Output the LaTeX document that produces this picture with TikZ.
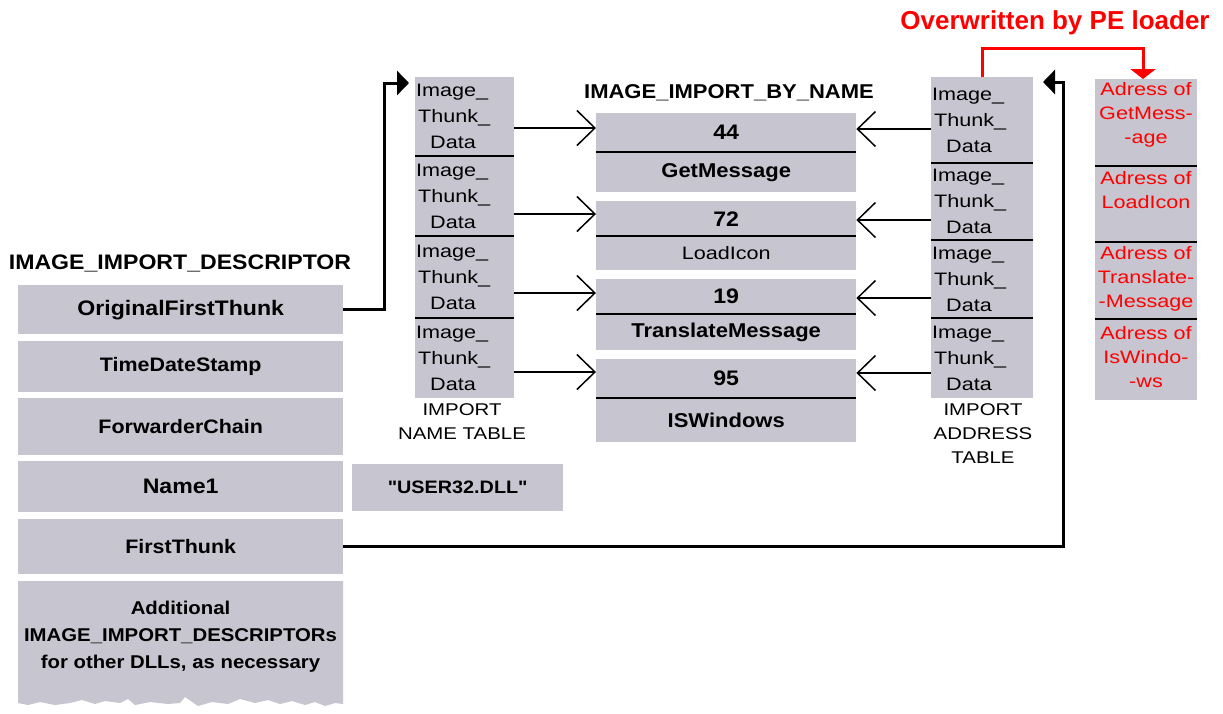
\documentclass[tikz,border=0pt]{standalone}
\usepackage{fontspec}
\setmainfont{Liberation Sans}
\newfontfamily\bfnt[FakeStretch=1.1]{Liberation Sans}
\newfontfamily\thfnt[FakeStretch=1.2]{Liberation Sans}
\usetikzlibrary{arrows.meta}
\definecolor{boxgray}{RGB}{199,197,207}
\definecolor{pered}{RGB}{255,0,0}
\newcommand\ThunkTxt{Image\_\\\hspace*{2pt}Thunk\_\\\hspace*{14pt}Data}
\tikzset{
  fld/.style={fill=boxgray, inner sep=0pt, anchor=north west},
  bt/.style={font=\bfnt\bfseries\fontsize{#1}{27}\selectfont},
  bt/.default=20,
  tt/.style={font=\thfnt\fontsize{18}{26}\selectfont},
  thunk/.style={fld, tt, text width=97pt, inner xsep=1pt, align=left},
  athunk/.style={fld, tt, text width=100pt, inner xsep=1pt, align=left},
  desc/.style={fld, minimum width=325pt},
  ibn/.style={fld, minimum width=260pt},
  red/.style={fld, minimum width=102pt},
  rtxt/.style={text=pered, font=\thfnt\fontsize{18}{24}\selectfont, align=center, inner sep=0pt},
  lbl/.style={font=\thfnt\fontsize{17}{24}\selectfont, align=center, inner sep=0pt},
  divl/.style={line width=2pt},
  tharr/.style={line width=1.5pt, -{Straight Barb[length=18pt,width=35pt]}},
  bkarr/.style={line width=3pt, -{Triangle[length=12pt,width=24pt]}},
  rdarr/.style={draw=pered, line width=3pt, -{Triangle[length=10pt,width=25pt]}}
}
\begin{document}
\begin{tikzpicture}[x=1pt,y=-1pt]
\useasboundingbox[fill=white] (0,0) rectangle (1223,713);

% ---- IMAGE_IMPORT_DESCRIPTOR ----
\node[bt=21] (tdesc) at (180,263) {IMAGE\_IMPORT\_DESCRIPTOR};
\node[desc, minimum height=49pt, bt=21] (ofs) at (18,285) {OriginalFirstThunk};
\node[desc, minimum height=51pt, bt=19.5] (tds) at (18,341) {TimeDateStamp};
\node[desc, minimum height=57pt, bt=19.5] (fwc) at (18,398) {ForwarderChain};
\node[desc, minimum height=51pt, bt=21] (nm1) at (18,461) {Name1};
\node[desc, minimum height=55pt, bt=19.5] (fth) at (18,519) {FirstThunk};
\fill[boxgray] (18,581) -- (343,581) -- (343,704) -- (335,703) -- (325,706) -- (315,702)
  -- (305,705) -- (292,701) -- (280,704) -- (268,700) -- (255,703) -- (240,699)
  -- (228,704) -- (212,702) -- (198,706) -- (185,697) -- (180,703) -- (168,704)
  -- (150,702) -- (135,705) -- (128,699) -- (120,703) -- (105,701) -- (95,704)
  -- (82,700) -- (70,703) -- (55,705) -- (40,702) -- (28,705) -- (18,703) -- cycle;
\node[bt=18.5, align=center] (add) at (180.5,637) {Additional\\IMAGE\_IMPORT\_DESCRIPTORs\\for other DLLs, as necessary};

\node[fld, minimum width=211pt, minimum height=47pt, bt=18] (usr) at (352,464) {"USER32.DLL"};

% ---- IMPORT NAME TABLE ----
\node[thunk, minimum height=79pt] (n1) at (415,77) {\ThunkTxt};
\node[thunk, minimum height=80pt] (n2) at (415,156) {\ThunkTxt};
\node[thunk, minimum height=82pt] (n3) at (415,236) {\ThunkTxt};
\node[thunk, minimum height=80pt] (n4) at (415,318) {\ThunkTxt};
\foreach \c in {n1,n2,n3} \draw[divl] (\c.south west) -- (\c.south east);
\node[lbl] (intl) at (462,422) {IMPORT\\NAME TABLE};

% ---- IMAGE_IMPORT_BY_NAME ----
\node[bt=20] (tibn) at (729,93) {IMAGE\_IMPORT\_BY\_NAME};
\node[ibn, minimum height=39pt, bt=21] (i44) at (596,113) {44};
\node[ibn, minimum height=40pt, bt=20] (igm) at (596,152) {GetMessage};
\node[ibn, minimum height=35pt, bt=21] (i72) at (596,201) {72};
\node[ibn, minimum height=34pt, tt] (ili) at (596,236) {LoadIcon};
\node[ibn, minimum height=35pt, bt=21] (i19) at (596,279) {19};
\node[ibn, minimum height=36pt, bt=20] (itm) at (596,314) {TranslateMessage};
\node[ibn, minimum height=39pt, bt=21] (i95) at (596,359) {95};
\node[ibn, minimum height=44pt, bt=20] (isw) at (596,398) {ISWindows};
\foreach \c in {i44,i72,i19,i95} \draw[divl] (\c.south west) -- (\c.south east);

% ---- IMPORT ADDRESS TABLE ----
\node[athunk, minimum height=86pt] (a1) at (931,77) {\ThunkTxt};
\node[athunk, minimum height=77pt] (a2) at (931,163) {\ThunkTxt};
\node[athunk, minimum height=78pt] (a3) at (931,240) {\ThunkTxt};
\node[athunk, minimum height=80pt] (a4) at (931,318) {\ThunkTxt};
\foreach \c in {a1,a2,a3} \draw[divl] (\c.south west) -- (\c.south east);
\node[lbl] (iatl) at (983,434) {IMPORT\\ADDRESS\\TABLE};

% ---- addresses written by loader ----
\node[red, minimum height=87pt] (r1) at (1095,79) {};
\node[red, minimum height=76pt] (r2) at (1095,166) {};
\node[red, minimum height=77pt] (r3) at (1095,242) {};
\node[red, minimum height=81pt] (r4) at (1095,319) {};
\foreach \c in {r1,r2,r3} \draw[divl] (\c.south west) -- (\c.south east);
\node[rtxt] (rt1) at (1146,115) {Adress of\\GetMess-\\-age};
\node[rtxt] (rt2) at (1146,190) {Adress of\\LoadIcon};
\node[rtxt] (rt3) at (1146,279) {Adress of\\Translate-\\-Message};
\node[rtxt] (rt4) at (1146,357) {Adress of\\IsWindo-\\-ws};
\node[text=pered, font=\bfseries\fontsize{26}{30}\selectfont, inner sep=0pt] (ovt) at (1055,23) {Overwritten by PE loader};

% ---- thin arrows ----
\coordinate (ly1) at (0,128); \coordinate (ly2) at (0,214);
\coordinate (ly3) at (0,293); \coordinate (ly4) at (0,372);
\coordinate (ry1) at (0,129); \coordinate (ry2) at (0,220);
\coordinate (ry3) at (0,298); \coordinate (ry4) at (0,373);
\draw[tharr] (n1.east |- ly1) -- (i44.west |- ly1);
\draw[tharr] (n2.east |- ly2) -- (i72.west |- ly2);
\draw[tharr] (n3.east |- ly3) -- (i19.west |- ly3);
\draw[tharr] (n4.east |- ly4) -- (i95.west |- ly4);
\draw[tharr] (a1.west |- ry1) -- (i44.east |- ry1);
\draw[tharr] (a2.west |- ry2) -- (i72.east |- ry2);
\draw[tharr] (a3.west |- ry3) -- (i19.east |- ry3);
\draw[tharr] (a4.west |- ry4) -- (i95.east |- ry4);

% ---- thick connectors ----
\coordinate (c1) at (384,83); \coordinate (c1t) at (409,83);
\draw[bkarr] (ofs.east) -| (c1) -- (c1t);
\coordinate (c2) at (1063,82); \coordinate (c2t) at (1043,82);
\draw[bkarr] (fth.east) -| (c2) -- (c2t);
\coordinate (c3) at (1143,48);
\draw[rdarr] (a1.north) |- (c3) -- (c3 |- r1.north);
\end{tikzpicture}
\end{document}
